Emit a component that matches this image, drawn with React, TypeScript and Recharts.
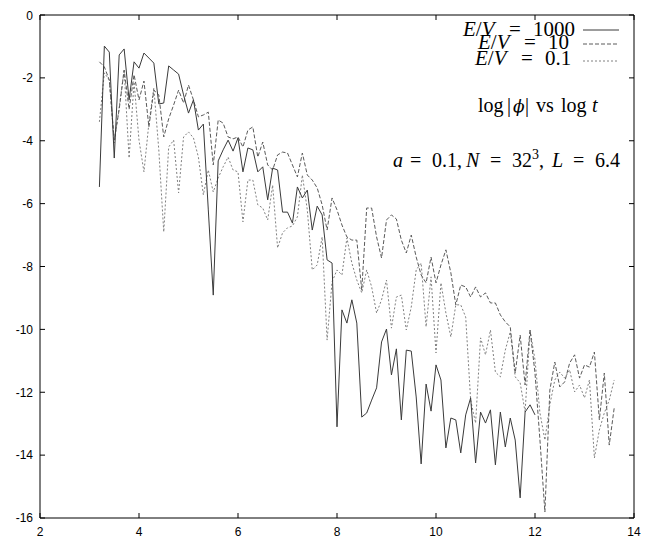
import React from "react";
import { LineChart, Line, XAxis, YAxis } from "recharts";

const logT = [
  3.2, 3.3, 3.4, 3.5, 3.6, 3.7, 3.8, 3.9, 4.0, 4.1, 4.2, 4.3, 4.4, 4.5, 4.6, 4.7, 4.8, 4.9,
  5.0, 5.1, 5.2, 5.3, 5.4, 5.5, 5.6, 5.7, 5.8, 5.9, 6.0, 6.1, 6.2, 6.3, 6.4, 6.5, 6.6, 6.7,
  6.8, 6.9, 7.0, 7.1, 7.2, 7.3, 7.4, 7.5, 7.6, 7.7, 7.8, 7.9, 8.0, 8.1, 8.2, 8.3, 8.4, 8.5,
  8.6, 8.7, 8.8, 8.9, 9.0, 9.1, 9.2, 9.3, 9.4, 9.5, 9.6, 9.7, 9.8, 9.9, 10.0, 10.1, 10.2,
  10.3, 10.4, 10.5, 10.6, 10.7, 10.8, 10.9, 11.0, 11.1, 11.2, 11.3, 11.4, 11.5, 11.6, 11.7,
  11.8, 11.9, 12.0, 12.1, 12.2, 12.3, 12.4, 12.5, 12.6, 12.7, 12.8, 12.9, 13.0, 13.1, 13.2,
  13.3, 13.4, 13.5, 13.6,
];

// E/V = 1000 (solid), from 3.2 to 12.0
const ev1000 = [
  -5.47, -0.99, -1.18, -4.55, -1.27, -1.08, -2.7, -1.49, -1.69, -1.21, -1.37, -1.53, -2.83,
  -2.8, -1.62, -1.75, -1.88, -2.54, -3.12, -2.7, -3.66, -3.47, -6.2, -8.91, -4.64, -4.29,
  -3.98, -4.33, -3.91, -4.99, -4.23, -4.29, -4.99, -4.83, -5.88, -4.87, -4.93, -6.27, -6.27,
  -6.62, -5.47, -5.82, -5.57, -6.84, -6.08, -6.36, -7.79, -7.89, -13.1, -9.38, -9.8, -9.06,
  -9.8, -12.79, -12.66, -12.25, -11.86, -10.4, -9.99, -11.45, -10.62, -12.88, -10.66, -10.69,
  -12.15, -14.28, -11.74, -12.6, -11.13, -11.61, -13.77, -12.82, -12.88, -13.93, -12.72,
  -12.18, -14.25, -12.63, -12.98, -12.56, -14.31, -12.63, -13.74, -12.82, -13.52, -15.36,
  -12.63, -12.4, -12.72,
];

// E/V = 10 (dashed)
const ev10 = [
  -1.49, -1.65, -2.07, -3.98, -3.0, -1.75, -3.0, -1.9, -2.7, -2.1, -3.56, -2.39, -2.54,
  -3.88, -3.3, -2.86, -2.39, -2.8, -2.23, -2.7, -3.24, -3.18, -3.09, -4.77, -3.34, -3.44,
  -3.88, -3.94, -3.88, -4.2, -3.66, -3.56, -4.52, -4.04, -4.77, -4.93, -4.45, -4.36, -4.39,
  -4.77, -5.15, -4.39, -5.09, -5.25, -5.5, -6.04, -6.84, -5.82, -6.2, -6.68, -7.06, -7.16,
  -7.16, -8.75, -6.14, -6.14, -7.06, -7.73, -6.52, -6.36, -6.49, -7.16, -7.57, -7.0, -7.7,
  -8.27, -8.52, -7.7, -8.52, -7.95, -7.47, -8.2, -9.22, -8.59, -8.65, -8.97, -8.65, -8.97,
  -8.84, -9.16, -9.16, -9.54, -9.76, -9.92, -11.39, -10.18, -11.77, -10.02, -11.39, -13.52,
  -15.81, -11.93, -11.04, -11.83, -11.67, -11.07, -10.81, -11.55, -11.13, -11.2, -10.72,
  -12.88, -11.39, -13.68, -12.5,
];

// E/V = 0.1 (dotted)
const ev01 = [
  -3.4, -1.84, -2.07, -4.07, -2.93, -1.75, -4.55, -2.13, -3.98, -4.99, -3.44, -2.32, -4.29,
  -6.9, -4.2, -3.98, -5.66, -3.88, -3.72, -3.91, -4.52, -5.72, -4.93, -5.63, -5.18, -4.83,
  -4.52, -4.93, -4.99, -6.58, -5.25, -5.25, -6.04, -6.14, -6.52, -5.41, -7.41, -6.93, -6.77,
  -6.71, -6.42, -5.09, -6.2, -8.11, -7.95, -7.06, -10.34, -8.49, -8.11, -8.27, -7.09, -7.89,
  -8.43, -8.84, -8.11, -8.65, -9.48, -9.06, -8.43, -9.96, -8.97, -8.91, -10.02, -9.29, -8.11,
  -7.89, -9.92, -8.33, -10.75, -8.52, -9.48, -10.24, -9.22, -9.22, -9.61, -12.25, -12.98,
  -10.27, -10.81, -10.02, -11.36, -11.51, -10.66, -10.08, -11.51, -11.7, -12.63, -10.02,
  -10.97, -12.66, -13.52, -12.4, -11.61, -11.36, -11.55, -11.29, -11.99, -11.77, -12.18,
  -11.61, -14.09, -13.2, -12.66, -12.25, -11.61,
];

const xTicks = [2, 4, 6, 8, 10, 12, 14];
const yTicks = [-16, -14, -12, -10, -8, -6, -4, -2, 0];

const data = logT.map((x, i) => ({
  x,
  a: i < ev1000.length ? ev1000[i] : null,
  b: ev10[i],
  c: ev01[i],
}));

const tickFont = { fontFamily: "Liberation Sans, Arial, sans-serif", fontSize: 12, fill: "#000" };
const serif = "Liberation Serif, Times New Roman, serif";
const noLabel = () => <g />;

export default function App() {
  return (
    <div style={{ position: "relative", width: 653, height: 532 }}>
      <LineChart width={653} height={532} data={data} margin={{ top: 7, right: 27, left: 0, bottom: 0 }}>
        <XAxis
          xAxisId="x"
          dataKey="x"
          type="number"
          domain={[2, 14]}
          ticks={xTicks}
          height={22}
          tickSize={0}
          tickMargin={9}
          tickLine={false}
          axisLine={{ stroke: "#000", strokeWidth: 1 }}
          tick={tickFont}
        />
        <YAxis
          yAxisId="y"
          type="number"
          domain={[-16, 0]}
          ticks={yTicks}
          width={32}
          tickSize={0}
          tickMargin={7}
          tickLine={false}
          axisLine={{ stroke: "#000", strokeWidth: 1 }}
          tick={tickFont}
        />
        <XAxis
          xAxisId="xb"
          dataKey="x"
          type="number"
          domain={[2, 14]}
          ticks={xTicks}
          orientation="bottom"
          mirror
          tick={noLabel}
          tickSize={5}
          axisLine={false}
          tickLine={{ stroke: "#000", strokeWidth: 1 }}
        />
        <XAxis
          xAxisId="xt"
          dataKey="x"
          type="number"
          domain={[2, 14]}
          ticks={xTicks}
          orientation="top"
          mirror
          tick={noLabel}
          tickSize={5}
          axisLine={{ stroke: "#000", strokeWidth: 1 }}
          tickLine={{ stroke: "#000", strokeWidth: 1 }}
        />
        <YAxis
          yAxisId="yl"
          type="number"
          domain={[-16, 0]}
          ticks={yTicks}
          orientation="left"
          mirror
          tick={noLabel}
          tickSize={5}
          axisLine={false}
          tickLine={{ stroke: "#000", strokeWidth: 1 }}
        />
        <YAxis
          yAxisId="yr"
          type="number"
          domain={[-16, 0]}
          ticks={yTicks}
          orientation="right"
          mirror
          tick={noLabel}
          tickSize={5}
          axisLine={{ stroke: "#000", strokeWidth: 1 }}
          tickLine={{ stroke: "#000", strokeWidth: 1 }}
        />
        <Line xAxisId="xb" yAxisId="yl" dataKey="b" stroke="none" dot={false} isAnimationActive={false} />
        <Line xAxisId="xt" yAxisId="yr" dataKey="c" stroke="none" dot={false} isAnimationActive={false} />
        <Line
          xAxisId="x"
          yAxisId="y"
          dataKey="c"
          stroke="#808080"
          strokeWidth={1}
          strokeDasharray="2 2"
          dot={false}
          isAnimationActive={false}
        />
        <Line
          xAxisId="x"
          yAxisId="y"
          dataKey="b"
          stroke="#5a5a5a"
          strokeWidth={1}
          strokeDasharray="4 2"
          dot={false}
          isAnimationActive={false}
        />
        <Line
          xAxisId="x"
          yAxisId="y"
          dataKey="a"
          stroke="#3a3a3a"
          strokeWidth={1}
          dot={false}
          isAnimationActive={false}
        />
      </LineChart>
      <svg
        width={653}
        height={532}
        style={{ position: "absolute", left: 0, top: 0, pointerEvents: "none" }}
      >
        <g fontFamily={serif} fontSize={21} fill="#000">
          <text x={455} y={28}>
            <tspan fontStyle="italic">E</tspan>/<tspan fontStyle="italic">V</tspan>
          </text>
          <text x={501} y={28}>=</text>
          <text x={525} y={28}>1000</text>
          <text x={470} y={41}>
            <tspan fontStyle="italic">E</tspan>/<tspan fontStyle="italic">V</tspan>
          </text>
          <text x={516} y={41}>=</text>
          <text x={540} y={41}>10</text>
          <text x={467} y={57}>
            <tspan fontStyle="italic">E</tspan>/<tspan fontStyle="italic">V</tspan>
          </text>
          <text x={513} y={57}>=</text>
          <text x={537} y={57}>0.1</text>
        </g>
        <line x1={575} x2={611} y1={22} y2={22} stroke="#3a3a3a" strokeWidth={1} />
        <line x1={575} x2={611} y1={36} y2={36} stroke="#5a5a5a" strokeWidth={1} strokeDasharray="4 2" />
        <line x1={575} x2={611} y1={53} y2={53} stroke="#808080" strokeWidth={1} strokeDasharray="2 2" />
        <g fontFamily={serif} fontSize={20} fill="#000">
          <text x={470} y={104}>log</text>
          <text x={499} y={104}>|</text>
          <text x={505} y={104} fontFamily="DejaVu Serif" fontStyle="italic" fontSize={17}>ϕ</text>
          <text x={517} y={104}>|</text>
          <text x={528} y={104}>vs</text>
          <text x={553} y={104}>log</text>
          <text x={584} y={104} fontStyle="italic">t</text>
        </g>
        <g fontFamily={serif} fontSize={20} fill="#000">
          <text x={385} y={159} fontStyle="italic">a</text>
          <text x={402} y={159}>=</text>
          <text x={424} y={159}>0.1,</text>
          <text x={458} y={159} fontStyle="italic">N</text>
          <text x={482} y={159}>=</text>
          <text x={504} y={159}>32</text>
          <text x={524} y={151} fontSize={14}>3</text>
          <text x={531} y={159}>,</text>
          <text x={544} y={159} fontStyle="italic">L</text>
          <text x={565} y={159}>=</text>
          <text x={587} y={159}>6.4</text>
        </g>
      </svg>
    </div>
  );
}
